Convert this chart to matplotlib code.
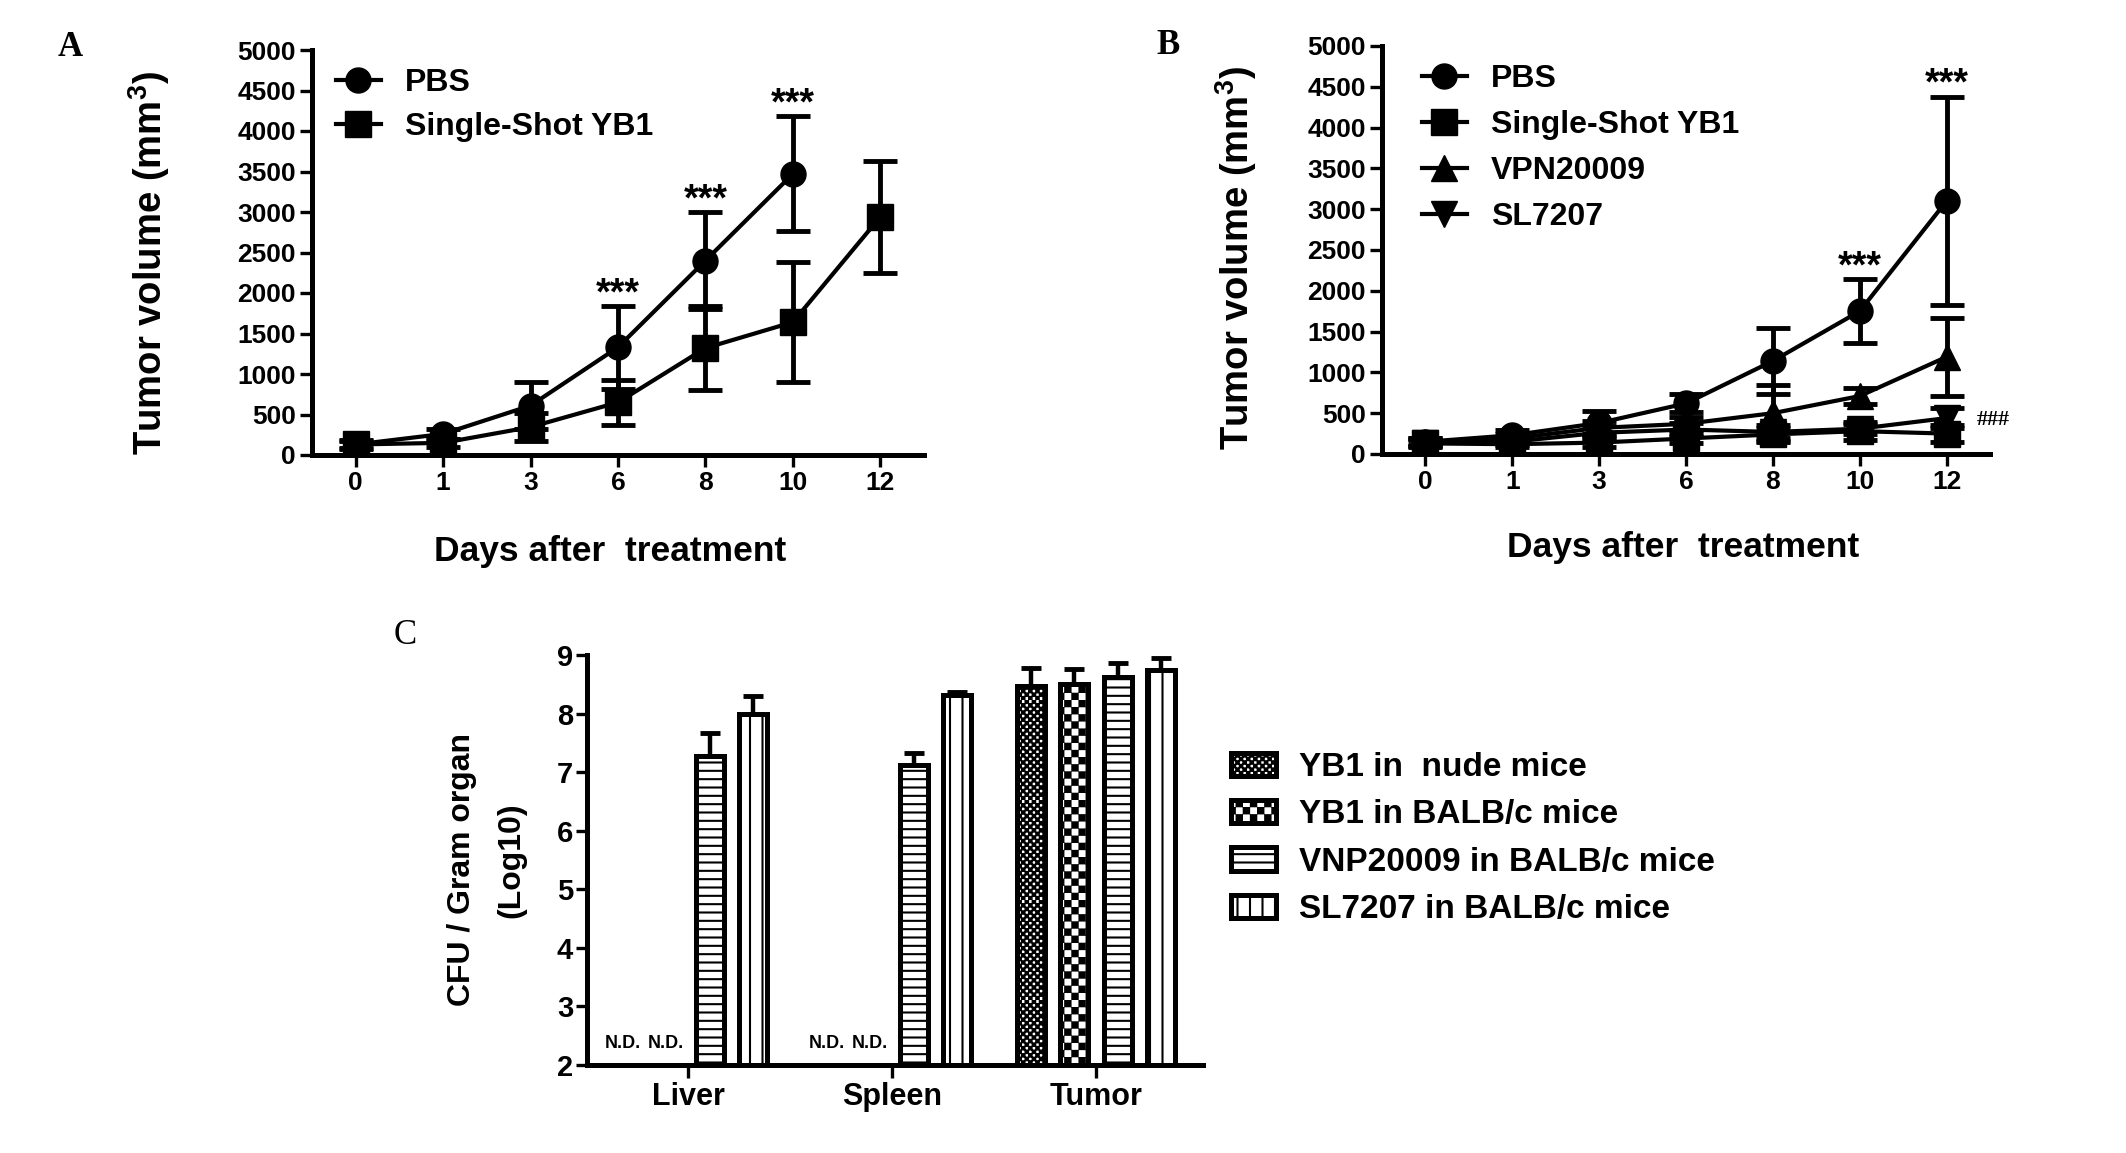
import warnings
warnings.filterwarnings('ignore')
import numpy as np
import matplotlib
matplotlib.use('Agg')
import matplotlib.pyplot as plt
from matplotlib import hatch as mhatch
from matplotlib.path import Path

# ---------------- data ----------------
days = ['0', '1', '3', '6', '8', '10', '12']

# Panel A
a_pbs_mean = [130, 260, 610, 1330, 2400, 3470]
a_pbs_err = [40, 60, 290, 510, 600, 710]
a_yb1_mean = [130, 150, 345, 650, 1320, 1640, 2940]
a_yb1_err = [50, 50, 170, 280, 515, 740, 690]
a_star_idx = [3, 4, 5]

# Panel B
b_pbs_mean = [150, 230, 380, 620, 1140, 1750, 3100]
b_pbs_err = [50, 60, 150, 110, 410, 390, 1280]
b_yb1_mean = [130, 120, 140, 190, 240, 280, 250]
b_yb1_err = [40, 40, 50, 60, 80, 110, 100]
b_vnp_mean = [150, 190, 320, 370, 500, 710, 1190]
b_vnp_err = [40, 50, 80, 80, 350, 100, 480]
b_sl_mean = [140, 150, 260, 300, 270, 310, 440]
b_sl_err = [40, 40, 80, 80, 80, 60, 120]
b_star_idx = [5, 6]

# Panel C
organs = ['Liver', 'Spleen', 'Tumor']
c_series = ['YB1 in  nude mice', 'YB1 in BALB/c mice',
            'VNP20009 in BALB/c mice', 'SL7207 in BALB/c mice']
c_mean = {
    'YB1 in  nude mice':       [np.nan, np.nan, 8.47],
    'YB1 in BALB/c mice':      [np.nan, np.nan, 8.50],
    'VNP20009 in BALB/c mice': [7.27, 7.12, 8.63],
    'SL7207 in BALB/c mice':   [8.00, 8.31, 8.74],
}
c_err = {
    'YB1 in  nude mice':       [0, 0, 0.31],
    'YB1 in BALB/c mice':      [0, 0, 0.26],
    'VNP20009 in BALB/c mice': [0.40, 0.20, 0.24],
    'SL7207 in BALB/c mice':   [0.30, 0.05, 0.21],
}
c_hatch = ['cc', 'c', '--', 'k']


# ---------------- custom hatches ----------------
class CheckerHatch(mhatch.HatchPatternBase):
    def __init__(self, hatch, density):
        k = hatch.count('c')
        self.n = 14 * k
        self.num_vertices = (self.n * self.n // 2) * 5 if k else 0

    def set_vertices_and_codes(self, vertices, codes):
        n = self.n
        s = 1.0 / n
        e = 0.009 if n <= 14 else 0.005
        verts = []
        for i in range(n):
            for j in range(n):
                if (i + j) % 2 == 0:
                    x0, y0 = i * s + e, j * s + e
                    x1, y1 = (i + 1) * s - e, (j + 1) * s - e
                    verts.extend([(x0, y0), (x1, y0), (x1, y1), (x0, y1), (x0, y0)])
        vertices[:] = np.array(verts)
        codes[:] = np.tile([Path.MOVETO, Path.LINETO, Path.LINETO,
                            Path.LINETO, Path.CLOSEPOLY], n * n // 2)


class WideVLines(mhatch.HatchPatternBase):
    def __init__(self, hatch, density):
        self.n = 8 * hatch.count('k')
        self.num_vertices = self.n * 2

    def set_vertices_and_codes(self, vertices, codes):
        xs = np.arange(self.n) / self.n
        v = []
        for xv in xs:
            v.extend([(xv, 0.0), (xv, 1.0)])
        vertices[:] = np.array(v)
        codes[:] = np.tile([Path.MOVETO, Path.LINETO], self.n)


mhatch._hatch_types.append(CheckerHatch)
mhatch._hatch_types.append(WideVLines)

# ---------------- style ----------------
plt.rcParams['font.family'] = ['Liberation Sans', 'DejaVu Sans']
plt.rcParams['font.weight'] = 'bold'
plt.rcParams['mathtext.fontset'] = 'custom'
plt.rcParams['mathtext.rm'] = 'Liberation Sans:bold'
plt.rcParams['mathtext.bf'] = 'Liberation Sans:bold'
plt.rcParams['mathtext.default'] = 'rm'
plt.rcParams['hatch.linewidth'] = 1.5
plt.rcParams['hatch.color'] = 'black'

W, H = 2126, 1153
fig = plt.figure(figsize=(W / 100, H / 100), dpi=100)


def ax_at(l, t, r, b):
    return fig.add_axes([l / W, 1 - b / H, (r - l) / W, (b - t) / H])


def ftext(x, y, s, **kw):
    fig.text(x / W, 1 - y / H, s, ha='center', va='center', **kw)


def style(ax, tl=8.5, lsize=19, pad=3):
    for s in ['top', 'right']:
        ax.spines[s].set_visible(False)
    for s in ['left', 'bottom']:
        ax.spines[s].set_linewidth(3.6)
        ax.spines[s].set_capstyle('projecting')
    ax.tick_params(width=2.4, length=tl, labelsize=lsize, pad=pad)
    for lab in ax.get_xticklabels() + ax.get_yticklabels():
        lab.set_fontweight('bold')


x = np.arange(len(days))
EB = dict(fmt='none', ecolor='black', elinewidth=3.5, capsize=12, capthick=3.5, zorder=2)
LN = dict(color='black', lw=3, zorder=3)
STAR = dict(ha='center', va='baseline', fontsize=27, fontweight='bold')

# ---------------- Panel A ----------------
axA = ax_at(312, 50, 924, 455)
xa = x[:len(a_pbs_mean)]
axA.errorbar(xa, a_pbs_mean, yerr=a_pbs_err, **EB)
axA.errorbar(x, a_yb1_mean, yerr=a_yb1_err, **EB)
la1, = axA.plot(xa, a_pbs_mean, marker='o', ms=18, label='PBS', **LN)
la2, = axA.plot(x, a_yb1_mean, marker='s', ms=19, label='Single-Shot YB1', **LN)
for i in a_star_idx:
    axA.text(x[i], a_pbs_mean[i] + a_pbs_err[i] + 20, '***', **STAR)
axA.set_xlim(-0.5, 6.5)
axA.set_ylim(0, 5000)
axA.set_yticks(np.arange(0, 5001, 500))
axA.set_xticks(x, days)
style(axA)
axA.legend(handles=[la1, la2], loc='upper left',
           bbox_to_anchor=(336 / W, 1 - 68 / H), bbox_transform=fig.transFigure,
           frameon=False, fontsize=23, handlelength=1.4, handletextpad=0.75,
           labelspacing=0.45, borderpad=0, borderaxespad=0)

# ---------------- Panel B ----------------
axB = ax_at(1382, 46, 1990, 454)
for m, e in [(b_pbs_mean, b_pbs_err), (b_yb1_mean, b_yb1_err),
             (b_vnp_mean, b_vnp_err), (b_sl_mean, b_sl_err)]:
    axB.errorbar(x, m, yerr=e, **EB)
lb1, = axB.plot(x, b_pbs_mean, marker='o', ms=18, label='PBS', **LN)
lb2, = axB.plot(x, b_yb1_mean, marker='s', ms=19, label='Single-Shot YB1', **LN)
lb3, = axB.plot(x, b_vnp_mean, marker='^', ms=19, label='VPN20009', **LN)
lb4, = axB.plot(x, b_sl_mean, marker='v', ms=19, label='SL7207', **LN)
for i in b_star_idx:
    axB.text(x[i], b_pbs_mean[i] + b_pbs_err[i] + 20, '***', **STAR)
axB.text(x[-1] + 0.35, b_sl_mean[-1] - 20, '###', ha='left', va='center',
         fontsize=16, family='Liberation Serif', fontweight='bold')
axB.set_xlim(-0.5, 6.5)
axB.set_ylim(0, 5000)
axB.set_yticks(np.arange(0, 5001, 500))
axB.set_xticks(x, days)
style(axB)
axB.legend(handles=[lb1, lb2, lb3, lb4], loc='upper left',
           bbox_to_anchor=(1422 / W, 1 - 64 / H), bbox_transform=fig.transFigure,
           frameon=False, fontsize=23, handlelength=1.4, handletextpad=0.75,
           labelspacing=0.5, borderpad=0, borderaxespad=0)

# ---------------- Panel C ----------------
axC = ax_at(587, 655, 1203, 1065)
g = np.arange(len(organs))
pitch = 0.212
bw = 0.137
handles = []
for k, name in enumerate(c_series):
    xs = g + (k - 1.5) * pitch
    vals = np.array(c_mean[name])
    errs = np.array(c_err[name])
    ok = ~np.isnan(vals)
    bars = axC.bar(xs[ok], vals[ok] - 2, bottom=2, width=bw, color='white',
                   edgecolor='black', linewidth=3.6, hatch=c_hatch[k], label=name, zorder=3)
    handles.append(bars)
    axC.errorbar(xs[ok], vals[ok], yerr=[np.zeros(ok.sum()), errs[ok]], fmt='none',
                 ecolor='black', elinewidth=3.2, capsize=7.5, capthick=3.5, zorder=2)
    for xi in xs[~ok]:
        axC.text(xi, 2.36, 'N.D.', ha='center', va='center', fontsize=13,
                 fontweight='bold')
axC.set_xlim(-0.495, 2.525)
axC.set_ylim(2, 9)
axC.set_yticks(np.arange(2, 10, 1))
axC.set_xticks(g, organs)
style(axC, tl=8, lsize=21, pad=2)
axC.tick_params(axis='x', labelsize=22, pad=3.5, length=9)
axC.legend(handles=handles, loc='upper left',
           bbox_to_anchor=(1231 / W, 1 - 752 / H), bbox_transform=fig.transFigure,
           frameon=False, fontsize=24, handlelength=1.35, handleheight=0.7,
           handletextpad=0.7, labelspacing=0.49, borderpad=0, borderaxespad=0)

# ---------------- labels ----------------
ftext(149, 263, 'Tumor volume (mm$^{3}$)', rotation=90, fontsize=27.5, fontweight='bold')
ftext(1236, 258, 'Tumor volume (mm$^{3}$)', rotation=90, fontsize=27.5, fontweight='bold')
ftext(610, 551, 'Days after  treatment', fontsize=25.5, fontweight='bold')
ftext(1683, 548, 'Days after  treatment', fontsize=25.5, fontweight='bold')
ftext(462, 870, 'CFU / Gram organ', rotation=90, fontsize=23, fontweight='bold')
ftext(511, 860, '(Log10)', rotation=90, fontsize=23, fontweight='bold')
ftext(70, 47, 'A', fontsize=25, family='Liberation Serif', fontweight='bold')
ftext(1168, 46, 'B', fontsize=25, family='Liberation Serif', fontweight='bold')
ftext(405, 635, 'C', fontsize=25, family='Liberation Serif', fontweight='normal')

fig.savefig('out.png', dpi=100, facecolor='white')
